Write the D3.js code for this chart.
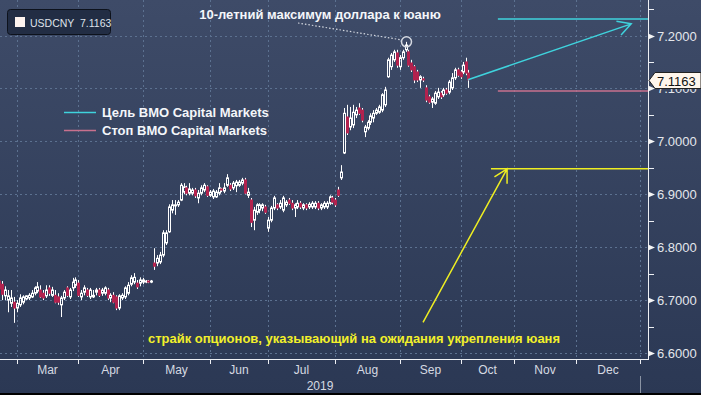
<!DOCTYPE html>
<html>
<head>
<meta charset="utf-8">
<script src="https://cdn.jsdelivr.net/npm/d3@7"></script>
<style>
    html, body { margin: 0; padding: 0; background: #2c3955; overflow: hidden; }
    svg { display: block; font-family: "Liberation Sans", Arial, sans-serif; }
</style>
</head>
<body>
<div id="chart-area"></div>
<script>
// USDCNY daily candles, one per weekday starting from firstDay
let ticker = "USDCNY";
let firstDay = "2019-02-21";
let openV = [6.736,6.730,6.708,6.700,6.694,6.696,6.685,6.691,6.696,6.702,
    6.704,6.706,6.713,6.717,6.719,6.713,6.708,6.723,6.709,6.709,
    6.706,6.691,6.704,6.723,6.706,6.723,6.728,6.732,6.706,6.715,
    6.719,6.706,6.706,6.715,6.719,6.713,6.713,6.719,6.704,6.709,
    6.706,6.685,6.704,6.706,6.713,6.730,6.734,6.732,6.732,6.734,
    6.734,6.736,6.734,6.770,6.770,6.772,6.785,6.808,6.829,6.870,
    6.878,6.880,6.889,6.904,6.912,6.902,6.902,6.908,6.893,6.902,
    6.908,6.914,6.898,6.895,6.895,6.902,6.910,6.906,6.917,6.917,
    6.912,6.916,6.917,6.921,6.927,6.898,6.889,6.851,6.866,6.870,
    6.874,6.876,6.836,6.851,6.874,6.880,6.876,6.870,6.880,6.889,
    6.883,6.874,6.876,6.883,6.874,6.880,6.876,6.876,6.876,6.883,
    6.874,6.876,6.876,6.883,6.893,6.889,6.908,6.931,6.978,7.046,
    7.027,7.031,7.050,7.063,7.059,7.018,7.025,7.036,7.044,7.053,
    7.055,7.059,7.069,7.122,7.141,7.154,7.167,7.141,7.158,7.173,
    7.169,7.148,7.141,7.131,7.116,7.118,7.101,7.084,7.074,7.072,
    7.084,7.091,7.088,7.097,7.093,7.101,7.120,7.135,7.131,7.131,
    7.150,7.129];
let highV = [6.742,6.736,6.726,6.719,6.719,6.706,6.700,6.711,6.709,6.709,
    6.713,6.719,6.726,6.734,6.728,6.719,6.728,6.728,6.725,6.719,
    6.713,6.708,6.719,6.726,6.723,6.742,6.743,6.738,6.719,6.728,
    6.723,6.723,6.719,6.723,6.723,6.723,6.726,6.723,6.713,6.715,
    6.709,6.711,6.713,6.726,6.734,6.747,6.751,6.738,6.743,6.742,
    6.738,6.738,6.738,6.798,6.785,6.791,6.832,6.832,6.881,6.889,
    6.889,6.889,6.921,6.921,6.916,6.921,6.912,6.912,6.908,6.917,
    6.921,6.917,6.908,6.910,6.908,6.921,6.912,6.921,6.938,6.921,
    6.925,6.927,6.927,6.931,6.931,6.912,6.893,6.876,6.883,6.883,
    6.883,6.880,6.857,6.878,6.897,6.883,6.889,6.897,6.889,6.893,
    6.889,6.883,6.889,6.887,6.883,6.883,6.885,6.887,6.887,6.887,
    6.883,6.887,6.887,6.898,6.897,6.893,6.914,6.955,7.063,7.069,
    7.065,7.069,7.065,7.072,7.063,7.031,7.040,7.053,7.059,7.063,
    7.069,7.091,7.103,7.158,7.167,7.173,7.173,7.163,7.173,7.188,
    7.173,7.154,7.144,7.135,7.125,7.122,7.106,7.088,7.084,7.095,
    7.101,7.095,7.101,7.101,7.116,7.129,7.139,7.139,7.135,7.150,
    7.158,7.135];
let lowV = [6.715,6.700,6.700,6.677,6.687,6.657,6.677,6.687,6.692,6.700,
    6.700,6.704,6.709,6.713,6.704,6.700,6.704,6.708,6.706,6.694,
    6.691,6.668,6.700,6.706,6.702,6.717,6.723,6.706,6.700,6.709,
    6.706,6.702,6.704,6.709,6.706,6.708,6.709,6.700,6.696,6.694,
    6.681,6.681,6.700,6.702,6.709,6.726,6.730,6.721,6.726,6.730,
    6.732,6.732,6.732,6.757,6.764,6.768,6.781,6.804,6.827,6.864,
    6.861,6.876,6.887,6.900,6.898,6.898,6.898,6.893,6.883,6.898,
    6.904,6.895,6.895,6.891,6.893,6.898,6.904,6.902,6.914,6.906,
    6.908,6.904,6.914,6.917,6.900,6.893,6.838,6.832,6.861,6.864,
    6.868,6.863,6.829,6.847,6.870,6.870,6.872,6.866,6.876,6.880,
    6.870,6.857,6.872,6.872,6.870,6.870,6.872,6.872,6.872,6.870,
    6.870,6.872,6.872,6.880,6.881,6.876,6.895,6.927,6.976,7.012,
    7.021,7.025,7.044,7.050,7.036,7.008,7.021,7.031,7.036,7.050,
    7.052,7.055,7.065,7.120,7.135,7.150,7.139,7.135,7.154,7.169,
    7.141,7.131,7.110,7.112,7.101,7.112,7.074,7.071,7.063,7.069,
    7.080,7.080,7.084,7.088,7.089,7.097,7.116,7.122,7.118,7.127,
    7.125,7.101];
let closeV = [6.721,6.711,6.719,6.708,6.704,6.685,6.694,6.704,6.706,6.708,
    6.709,6.713,6.723,6.725,6.706,6.704,6.719,6.713,6.719,6.696,
    6.696,6.704,6.715,6.709,6.719,6.734,6.738,6.709,6.713,6.723,
    6.709,6.719,6.709,6.719,6.709,6.719,6.723,6.704,6.709,6.696,
    6.685,6.708,6.709,6.723,6.728,6.742,6.743,6.725,6.738,6.738,
    6.736,6.734,6.736,6.764,6.779,6.785,6.827,6.827,6.876,6.880,
    6.880,6.885,6.917,6.914,6.902,6.910,6.908,6.897,6.902,6.912,
    6.917,6.898,6.904,6.906,6.904,6.912,6.908,6.912,6.931,6.910,
    6.921,6.923,6.923,6.927,6.902,6.904,6.847,6.870,6.880,6.880,
    6.880,6.866,6.851,6.874,6.893,6.874,6.883,6.893,6.885,6.883,
    6.874,6.880,6.883,6.876,6.880,6.874,6.881,6.883,6.883,6.874,
    6.880,6.883,6.883,6.895,6.885,6.880,6.898,6.942,7.053,7.016,
    7.044,7.055,7.059,7.053,7.040,7.027,7.036,7.048,7.053,7.059,
    7.065,7.088,7.097,7.154,7.163,7.169,7.144,7.158,7.169,7.182,
    7.144,7.135,7.116,7.116,7.122,7.116,7.078,7.074,7.080,7.091,
    7.093,7.084,7.097,7.091,7.112,7.120,7.135,7.125,7.122,7.144,
    7.129,7.1163];

// right axis
let yTicks = [6.6, 6.7, 6.8, 6.9, 7.0, 7.1, 7.2];
let yMinorTicks = [6.65, 6.75, 6.85, 6.95, 7.05, 7.15, 7.25];

// BMO levels and the option strike
let targetLevel = 7.231, stopLevel = 7.095, strikeLevel = 6.948;
let levelStart = "2019-10-23", strikeStart = "2019-10-18";
let targetArrowEnd = {date: "2019-12-27", value: 7.222};
let strikeArrow = {fromDate: "2019-09-12", fromValue: 6.658, toDate: "2019-10-29", toValue: strikeLevel};
let maxDate = "2019-09-04", maxValue = 7.188;

let titleText = "10-летний максимум доллара к юаню";
let targetLabel = "Цель BMO Capital Markets";
let stopLabel = "Стоп BMO Capital Markets";
let strikeText = "страйк опционов, указывающий на ожидания укрепления юаня";

let W = 701, H = 395;
let plotW = 648, plotH = 359;

let cyan = "#3fd3dd", pink = "#c8708e", yellow = "#eeee22", red = "#b2224e";
let gridColor = "#5c7190";

let parse = d3.timeParse("%Y-%m-%d");
let start = parse(firstDay);
let isWeekday = d => d.getDay() % 6 !== 0;
let bi = date => {
    let dt = typeof date === "string" ? parse(date) : date;
    return d3.timeDay.range(start, dt).filter(isWeekday).length;
};
let days = d3.timeDay.range(start, d3.timeDay.offset(start, 400)).filter(isWeekday).slice(0, openV.length);
let candles = openV.map((o, i) => ({date: days[i], o: o, h: highV[i], l: lowV[i], c: closeV[i]}));

// Scales (trading-day axis, the projection part is squeezed like in the terminal)
let x = d3.scaleLinear()
    .domain([bi("2019-03-01"), bi("2019-10-01"), bi("2019-11-01"), bi("2020-01-01")])
    .range([17, 461, 514, 640]);
let y = d3.scaleLinear()
    .domain([6.6, 7.2])
    .range([353, 35.5]);

let svg = d3.select("#chart-area")
    .append("svg")
    .attr("width", W)
    .attr("height", H);

let defs = svg.append("defs");
let grad = defs.append("linearGradient")
    .attr("id", "bg").attr("x1", 0).attr("y1", 0).attr("x2", 0).attr("y2", 1);
grad.append("stop").attr("offset", "0%").attr("stop-color", "#3e4b68");
grad.append("stop").attr("offset", "100%").attr("stop-color", "#2b3854");
defs.append("clipPath").attr("id", "plotClip")
    .append("rect").attr("x", 0).attr("y", 0).attr("width", plotW).attr("height", plotH);

svg.append("rect").attr("width", W).attr("height", H).attr("fill", "url(#bg)");
svg.append("rect").attr("y", H - 2).attr("width", W).attr("height", 2).attr("fill", "#000");

let g = svg.append("g");

// Grid
let monthStarts = d3.timeMonth.range(parse("2019-02-01"), parse("2020-01-02"));
let monthX = monthStarts.map(m => ({m: m, x: Math.round(x(bi(m)))}));
let visibleMonths = monthX.filter(d => d.x > 0 && d.x < plotW);

g.selectAll(".vgrid").data(visibleMonths).enter().append("line")
    .attr("class", "vgrid")
    .attr("x1", d => d.x + 0.5).attr("x2", d => d.x + 0.5)
    .attr("y1", 0).attr("y2", plotH)
    .attr("stroke", gridColor).attr("stroke-dasharray", "2,3");

g.selectAll(".hgrid").data(yTicks).enter().append("line")
    .attr("class", "hgrid")
    .attr("x1", 0).attr("x2", plotW)
    .attr("y1", d => Math.round(y(d)) + 0.5).attr("y2", d => Math.round(y(d)) + 0.5)
    .attr("stroke", gridColor).attr("stroke-dasharray", "2,3");

// Candles
let cg = g.append("g").attr("clip-path", "url(#plotClip)");
let candle = cg.selectAll(".candle").data(candles).enter().append("g").attr("class", "candle");
candle.each(function (d) {
    let sel = d3.select(this);
    let cx = Math.round(x(bi(d.date)));
    let up = d.c >= d.o;
    let top = y(Math.max(d.o, d.c)), bot = y(Math.min(d.o, d.c));
    sel.append("line")
        .attr("x1", cx + 0.5).attr("x2", cx + 0.5)
        .attr("y1", y(d.h)).attr("y2", top)
        .attr("stroke", "#fff");
    sel.append("line")
        .attr("x1", cx + 0.5).attr("x2", cx + 0.5)
        .attr("y1", bot).attr("y2", y(d.l))
        .attr("stroke", "#fff");
    if (up) {
        sel.append("rect")
            .attr("x", cx - 0.5).attr("y", top)
            .attr("width", 2).attr("height", Math.max(bot - top, 0.8))
            .attr("fill", "none").attr("stroke", "#fff");
    } else {
        sel.append("rect")
            .attr("x", cx - 1).attr("y", top - 0.5)
            .attr("width", 3).attr("height", Math.max(bot - top + 1, 1.5))
            .attr("fill", red);
    }
});

// Axes lines
g.append("line").attr("x1", 0).attr("x2", plotW + 0.5)
    .attr("y1", plotH + 0.5).attr("y2", plotH + 0.5).attr("stroke", "#eef0f4");
g.append("line").attr("x1", plotW + 0.5).attr("x2", plotW + 0.5)
    .attr("y1", 0).attr("y2", plotH + 1).attr("stroke", "#eef0f4");

// X ticks and labels
g.selectAll(".xtick").data(visibleMonths).enter().append("line")
    .attr("x1", d => d.x + 0.5).attr("x2", d => d.x + 0.5)
    .attr("y1", plotH).attr("y2", plotH + 5)
    .attr("stroke", "#eef0f4");

let monthFmt = d3.timeFormat("%b");
let monthLabels = [];
for (let i = 0; i < monthX.length - 1; i++) {
    let mid = (monthX[i].x + monthX[i + 1].x) / 2;
    if (mid > 10 && mid < plotW) monthLabels.push({m: monthX[i].m, x: mid});
}
g.selectAll(".xlab").data(monthLabels).enter().append("text")
    .attr("x", d => d.x).attr("y", 374)
    .attr("text-anchor", "middle")
    .attr("font-size", "12px").attr("fill", "#d6dae2")
    .text(d => monthFmt(d.m));

let yearEnd = x(bi("2020-01-01"));
g.append("text").attr("x", yearEnd / 2).attr("y", 390)
    .attr("text-anchor", "middle")
    .attr("font-size", "12px").attr("fill", "#d6dae2")
    .text("2019");
g.append("line").attr("x1", Math.round(yearEnd) + 0.5).attr("x2", Math.round(yearEnd) + 0.5)
    .attr("y1", 376).attr("y2", H - 2).attr("stroke", "#8a93a3");

// Y ticks and labels
let yFmt = d3.format(".4f");
g.selectAll(".yminor").data(yMinorTicks).enter().append("line")
    .attr("x1", plotW).attr("x2", plotW + 6)
    .attr("y1", d => Math.round(y(d)) + 0.5).attr("y2", d => Math.round(y(d)) + 0.5)
    .attr("stroke", "#eef0f4");
g.selectAll(".ymark").data(yTicks).enter().append("path")
    .attr("d", d => {
        let yy = Math.round(y(d)) + 0.5;
        return `M${plotW},${yy - 3}L${plotW + 7},${yy}L${plotW},${yy + 3}Z`;
    })
    .attr("fill", "#f4f4f4");
g.selectAll(".ylab").data(yTicks).enter().append("text")
    .attr("x", plotW + 9).attr("y", d => y(d) + 5)
    .attr("font-size", "13px").attr("fill", "#e4e7ec")
    .text(d => yFmt(d));

// Last price tag
let last = candles[candles.length - 1];
let ly = Math.round(y(last.c)) + 0.5;
g.append("path")
    .attr("d", `M${plotW + 1},${ly}L${plotW + 7},${ly - 8}L${W},${ly - 8}L${W},${ly + 8}L${plotW + 7},${ly + 8}Z`)
    .attr("fill", "#fff6ec").attr("stroke", "#222");
g.append("text").attr("x", plotW + 9).attr("y", ly + 5)
    .attr("font-size", "13px").attr("fill", "#111")
    .text(yFmt(last.c));

// Ticker box
let box = g.append("g");
box.append("rect").attr("x", 7.5).attr("y", 9.5).attr("width", 103).attr("height", 25).attr("rx", 3)
    .attr("fill", "#222d44").attr("stroke", "#0d121c");
box.append("rect").attr("x", 15).attr("y", 17).attr("width", 10).attr("height", 10).attr("fill", "#fdf3ef");
box.append("text").attr("x", 30).attr("y", 27)
    .attr("font-size", "10.5px").attr("fill", "#dfe3ea")
    .style("white-space", "pre")
    .text(ticker + "  " + yFmt(last.c));

// BMO target / stop levels
let levelX0 = x(bi(levelStart));
g.append("line").attr("x1", levelX0).attr("x2", plotW)
    .attr("y1", y(targetLevel)).attr("y2", y(targetLevel))
    .attr("stroke", cyan).attr("stroke-width", 1.5);
g.append("line").attr("x1", levelX0).attr("x2", plotW)
    .attr("y1", y(stopLevel)).attr("y2", y(stopLevel))
    .attr("stroke", pink).attr("stroke-width", 1.5);
g.append("line").attr("x1", x(bi(strikeStart))).attr("x2", plotW)
    .attr("y1", y(strikeLevel)).attr("y2", y(strikeLevel))
    .attr("stroke", yellow).attr("stroke-width", 1.5);

function arrow(x0, y0, x1, y1, color) {
    let ang = Math.atan2(y0 - y1, x0 - x1);
    let len = 15, spread = 0.5;
    g.append("path")
        .attr("d", `M${x0},${y0}L${x1},${y1}` +
            `M${x1 + len * Math.cos(ang + spread)},${y1 + len * Math.sin(ang + spread)}L${x1},${y1}` +
            `L${x1 + len * Math.cos(ang - spread)},${y1 + len * Math.sin(ang - spread)}`)
        .attr("fill", "none").attr("stroke", color).attr("stroke-width", 1.5);
}
arrow(x(bi(last.date)), y(last.c), x(bi(targetArrowEnd.date)), y(targetArrowEnd.value), cyan);
arrow(x(bi(strikeArrow.fromDate)), y(strikeArrow.fromValue), x(bi(strikeArrow.toDate)), y(strikeArrow.toValue), yellow);

// 10-year high marker
let mx = Math.round(x(bi(maxDate))) + 0.5, my = y(maxValue);
g.append("circle").attr("cx", mx).attr("cy", my).attr("r", 5)
    .attr("fill", "none").attr("stroke", "#d4d8e0").attr("stroke-width", 1.5);
g.append("line").attr("x1", 298).attr("y1", 23).attr("x2", mx - 5).attr("y2", my - 2)
    .attr("stroke", "#d4d8e0").attr("stroke-width", 1.2).attr("stroke-dasharray", "1.5,2");
g.append("text").attr("x", 320).attr("y", 19)
    .attr("text-anchor", "middle")
    .attr("font-size", "13px").attr("font-weight", "bold").attr("fill", "#f4f6fa")
    .text(titleText);

// Legend
let legendRows = [{label: targetLabel, color: cyan}, {label: stopLabel, color: pink}];
legendRows.forEach((row, i) => {
    let ry = 112 + i * 18;
    g.append("line").attr("x1", 64).attr("x2", 96)
        .attr("y1", ry + 0.5).attr("y2", ry + 0.5)
        .attr("stroke", row.color).attr("stroke-width", 1.5);
    g.append("text").attr("x", 102).attr("y", ry + 5)
        .attr("font-size", "13px").attr("font-weight", "bold").attr("fill", "#f4f6fa")
        .text(row.label);
});

// Strike caption
g.append("text").attr("x", 354).attr("y", 343)
    .attr("text-anchor", "middle")
    .attr("font-size", "13px").attr("font-weight", "bold").attr("fill", "#f2f02a")
    .text(strikeText);
</script>
</body>
</html>
